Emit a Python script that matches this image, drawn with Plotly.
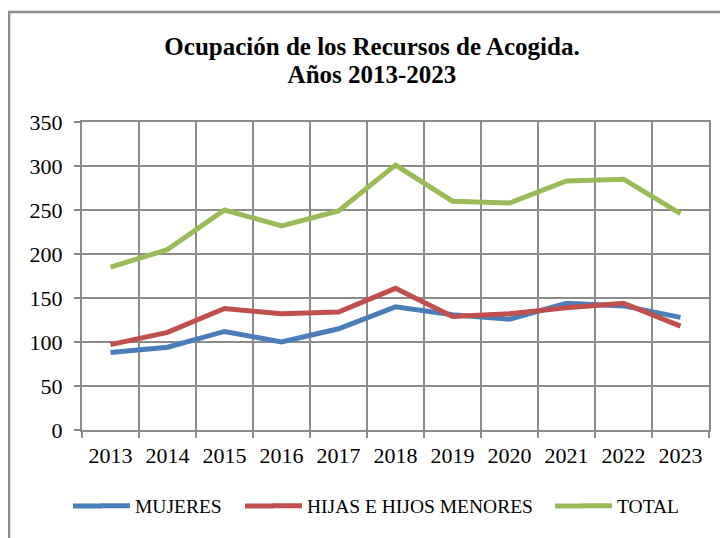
import plotly.graph_objects as go

years = ["2013", "2014", "2015", "2016", "2017", "2018", "2019", "2020", "2021", "2022", "2023"]
mujeres = [88, 94, 112, 100, 115, 140, 131, 126, 144, 141, 128]
hijos = [97, 111, 138, 132, 134, 161, 129, 132, 139, 144, 118]
total = [185, 205, 250, 232, 249, 301, 260, 258, 283, 285, 246]
y_ticks = [0, 50, 100, 150, 200, 250, 300, 350]

O = 8  # page offset of the figure (body margin)
W, H = 728 - O, 538 - O
# plot area in page pixels: x 82..709, y 122..430
ML, MT = 82 - O, 122 - O
MR = W - (709 - O)
MB = H - (430 - O)
PW, PH = W - ML - MR, H - MT - MB

def px_x(x):  # page px -> paper x
    return (x - O - ML) / PW

def px_y(y):  # page px -> paper y
    return (H - MB - (y - O)) / PH

FONT = "Liberation Serif"
GRID = "#8c8c8c"
LEG_Y = 506

fig = go.Figure()
series = [
    ("MUJERES", mujeres, "#4a7ebb", "legend", 95),
    ("HIJAS E HIJOS MENORES", hijos, "#c0504d", "legend2", 267),
    ("TOTAL", total, "#9bbb59", "legend3", 577),
]
shapes = [dict(type="rect", xref="paper", yref="paper",
               x0=px_x(9), x1=px_x(760), y0=px_y(580), y1=px_y(12),
               line=dict(color="#8c8c8c", width=2.5), layer="below")]
legends = {}
leg_common = dict(orientation="h", yanchor="middle", xanchor="left",
                  font=dict(family=FONT, size=19.5, color="#000000"),
                  bgcolor="rgba(0,0,0,0)", borderwidth=0, visible=True)
for name, vals, col, lg, lx in series:
    fig.add_trace(go.Scatter(x=years, y=vals, name=name, mode="lines",
                             line=dict(color=col, width=5), legend=lg,
                             showlegend=True))
    legends[lg] = dict(x=px_x(lx), y=px_y(LEG_Y), **leg_common)
    # lengthen the legend key line to the reference's longer sample
    shapes.append(dict(type="line", xref="paper", yref="paper",
                       x0=px_x(lx - 22), x1=px_x(lx + 6),
                       y0=px_y(LEG_Y), y1=px_y(LEG_Y),
                       line=dict(color=col, width=5)))

fig.update_layout(
    width=W, height=H, showlegend=True,
    margin=dict(l=ML, r=MR, t=MT, b=MB),
    paper_bgcolor="white", plot_bgcolor="white",
    title=dict(text="<b><span style=\"font-size:25px\">Ocupación de los Recursos de Acogida.<br>Años 2013-2023</span></b>",
               x=(372 - O) / W, xanchor="center", xref="container",
               y=1 - (55 - O) / H, yanchor="top", yref="container",
               font=dict(family=FONT, size=21.5, color="#000000")),
    xaxis=dict(type="category", tickson="boundaries", range=[-0.5, 10.5],
               showgrid=True, gridcolor=GRID, gridwidth=2, showline=True,
               linecolor=GRID, linewidth=2, mirror=True, ticks="outside",
               ticklen=6, tickwidth=2, tickcolor=GRID, ticklabelstandoff=5,
               tickfont=dict(family=FONT, size=22, color="#000000")),
    yaxis=dict(range=[0, 350], tickvals=y_ticks, showgrid=True, gridcolor=GRID,
               gridwidth=2, showline=True, linecolor=GRID, linewidth=2,
               mirror=True, ticks="outside", ticklen=6, tickwidth=2,
               tickcolor=GRID, zeroline=False, ticklabelstandoff=7,
               tickfont=dict(family=FONT, size=22, color="#000000")),
    shapes=shapes,
    **legends,
)

fig.write_html("out.html")
